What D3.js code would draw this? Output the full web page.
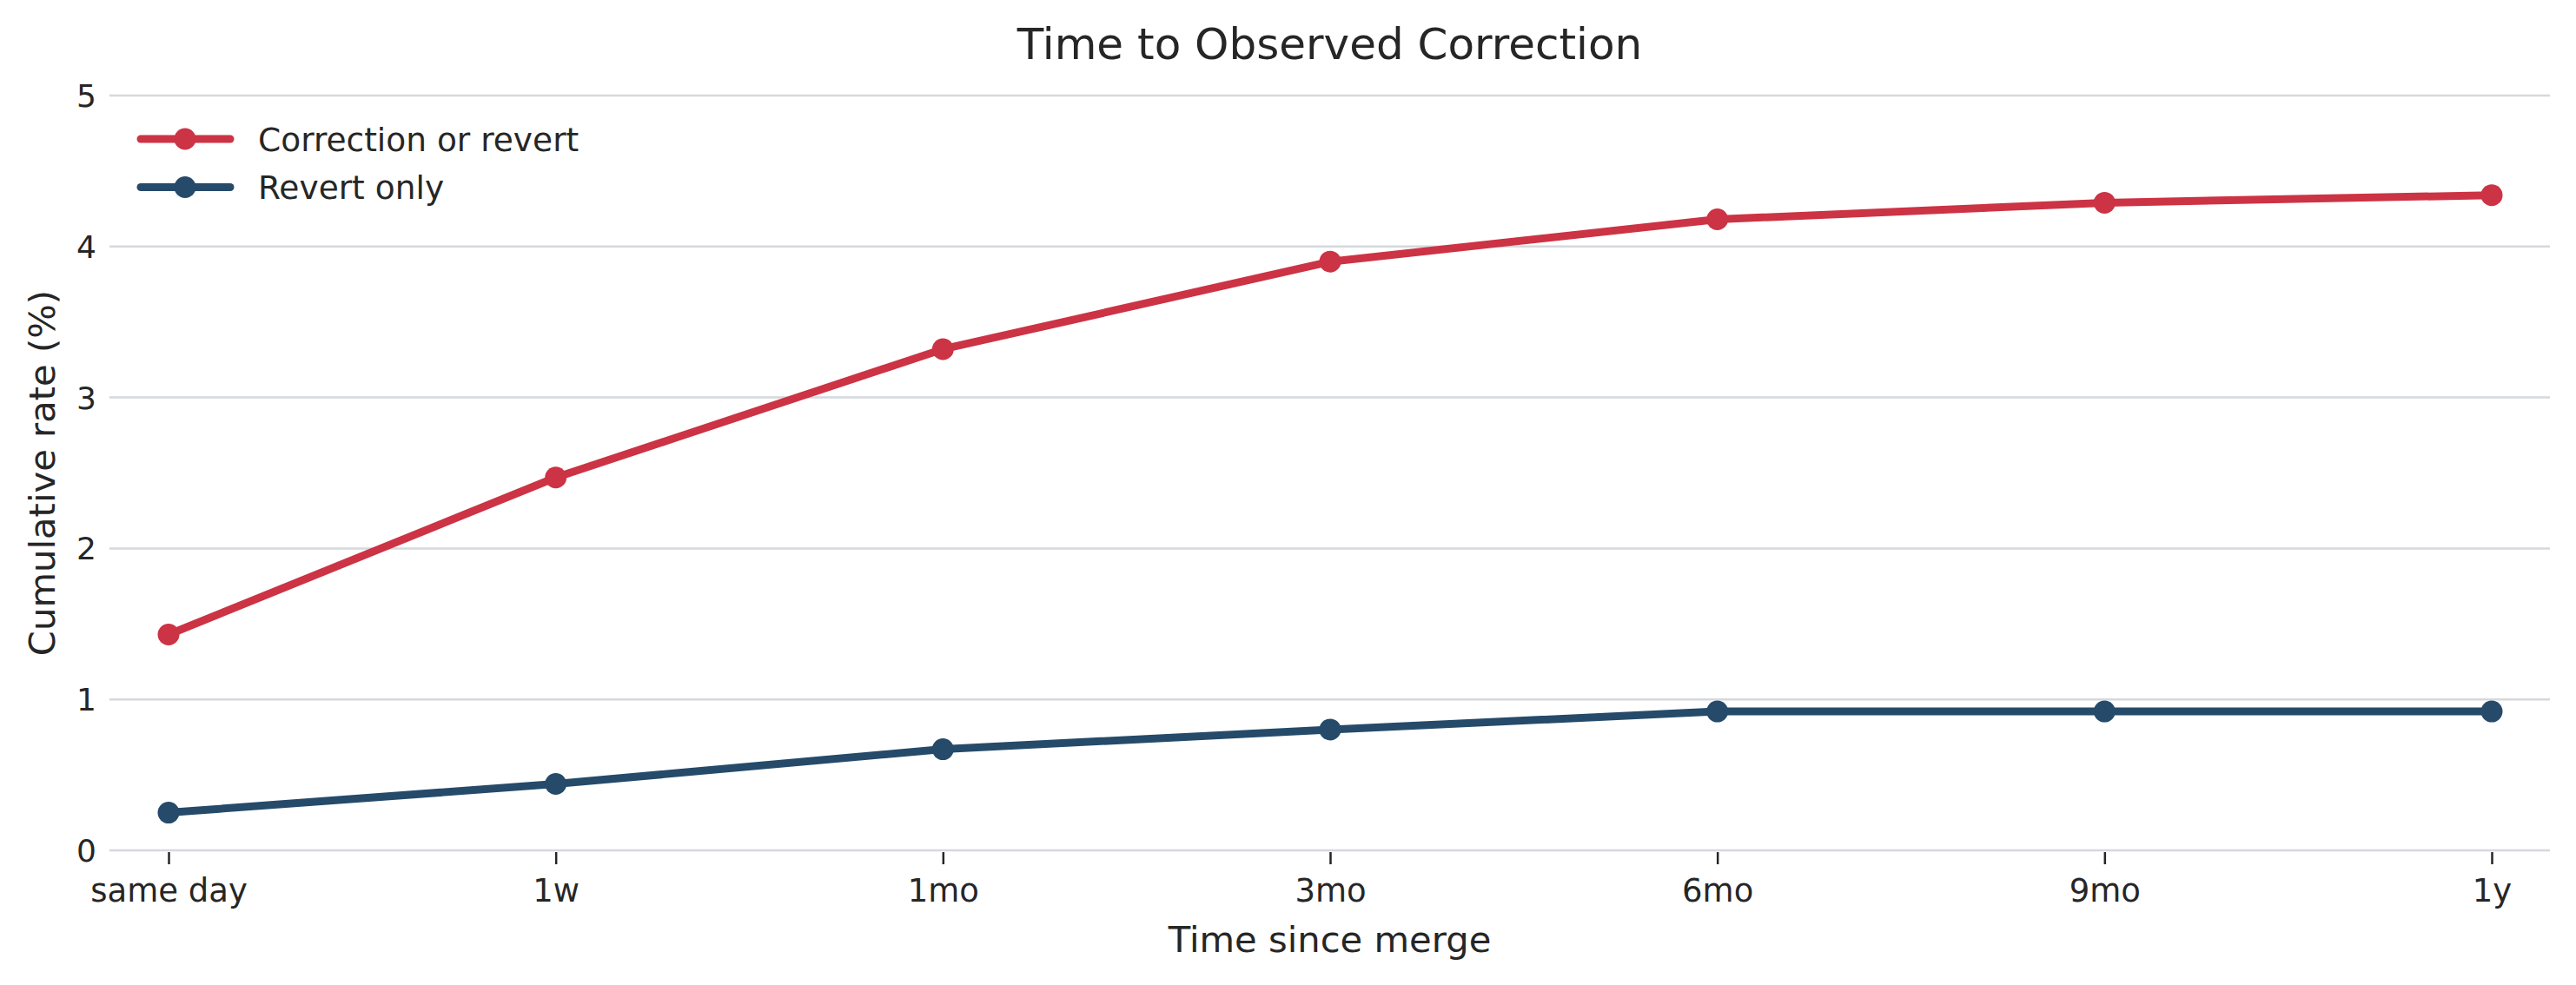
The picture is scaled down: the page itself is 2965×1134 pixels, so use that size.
<!DOCTYPE html>
<html>
<head>
<meta charset="utf-8">
<style>
  html, body { margin: 0; padding: 0; background: #fff; }
  svg text { font-family: "DejaVu Sans", sans-serif; fill: #262626; }
</style>
</head>
<body>
<div id="chart"></div>
<script src="https://d3js.org/d3.v7.min.js"></script>
<script>
// data
var categories = ["same day", "1w", "1mo", "3mo", "6mo", "9mo", "1y"];
var correctionOrRevert = [1.43, 2.47, 3.32, 3.90, 4.18, 4.29, 4.34];
var revertOnly = [0.25, 0.44, 0.67, 0.80, 0.92, 0.92, 0.92];
var yTicks = [0, 1, 2, 3, 4, 5];

var series = [
  { name: "Correction or revert", values: correctionOrRevert, color: "#cc3344" },
  { name: "Revert only", values: revertOnly, color: "#264a69" }
];

var width = 2965, height = 1134;
var plotLeft = 126, plotRight = 2935, plotTop = 110, plotBottom = 979;

var svg = d3.select("#chart").append("svg")
  .attr("width", width)
  .attr("height", height);

var x = d3.scalePoint()
  .domain(categories)
  .range([194, 2868]);

var y = d3.scaleLinear()
  .domain([0, 5])
  .range([plotBottom, plotTop]);

// horizontal grid
svg.append("g")
  .selectAll("line")
  .data(yTicks)
  .enter().append("line")
  .attr("x1", plotLeft).attr("x2", plotRight)
  .attr("y1", function (d) { return y(d); })
  .attr("y2", function (d) { return y(d); })
  .attr("stroke", "#d5d8dc")
  .attr("stroke-width", 2.5);

// y tick labels
svg.append("g")
  .selectAll("text")
  .data(yTicks)
  .enter().append("text")
  .attr("x", plotLeft - 15)
  .attr("y", function (d) { return y(d); })
  .attr("dy", "0.36em")
  .attr("text-anchor", "end")
  .style("font-size", "36px")
  .text(function (d) { return d; });

// x axis: small ticks + labels
var xAxis = d3.axisBottom(x).tickSize(14).tickPadding(17);
var gx = svg.append("g")
  .attr("transform", "translate(0," + (plotBottom + 2) + ")")
  .call(xAxis);
gx.select(".domain").remove();
gx.selectAll(".tick line").attr("stroke", "#262626").attr("stroke-width", 2.5);
gx.selectAll(".tick text")
  .style("font-size", "37px")
  .style("font-family", "DejaVu Sans")
  .attr("fill", "#262626");

// lines and markers
var line = d3.line()
  .x(function (d, i) { return x(categories[i]); })
  .y(function (d) { return y(d); });

series.forEach(function (s) {
  svg.append("path")
    .datum(s.values)
    .attr("d", line)
    .attr("fill", "none")
    .attr("stroke", s.color)
    .attr("stroke-width", 9)
    .attr("stroke-linejoin", "round")
    .attr("stroke-linecap", "round");

  svg.append("g")
    .selectAll("circle")
    .data(s.values)
    .enter().append("circle")
    .attr("cx", function (d, i) { return x(categories[i]); })
    .attr("cy", function (d) { return y(d); })
    .attr("r", 12.5)
    .attr("fill", s.color);
});

// legend
var legend = svg.append("g");
series.forEach(function (s, i) {
  var ly = 160 + i * 55.5;
  legend.append("line")
    .attr("x1", 162).attr("x2", 265)
    .attr("y1", ly).attr("y2", ly)
    .attr("stroke", s.color)
    .attr("stroke-width", 9)
    .attr("stroke-linecap", "round");
  legend.append("circle")
    .attr("cx", 213).attr("cy", ly).attr("r", 12.5)
    .attr("fill", s.color);
  legend.append("text")
    .attr("x", 297).attr("y", ly)
    .attr("dy", "0.36em")
    .style("font-size", "37.5px")
    .text(s.name);
});

// title and axis labels
svg.append("text")
  .attr("x", (plotLeft + plotRight) / 2).attr("y", 68)
  .attr("text-anchor", "middle")
  .style("font-size", "50px")
  .text("Time to Observed Correction");

svg.append("text")
  .attr("x", (plotLeft + plotRight) / 2).attr("y", 1096)
  .attr("text-anchor", "middle")
  .style("font-size", "41.7px")
  .text("Time since merge");

svg.append("text")
  .attr("transform", "translate(63," + ((plotTop + plotBottom) / 2) + ") rotate(-90)")
  .attr("text-anchor", "middle")
  .style("font-size", "41.7px")
  .text("Cumulative rate (%)");
</script>
</body>
</html>
